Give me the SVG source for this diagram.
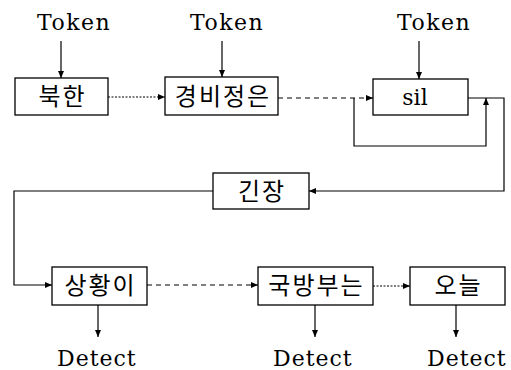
<svg xmlns="http://www.w3.org/2000/svg" width="511" height="370" viewBox="0 0 511 370">
<style>
.box{fill:#fff;stroke:#000;stroke-width:1.3}
.ko{font-family:"Noto Sans CJK KR","Noto Sans",sans-serif;font-size:24px;letter-spacing:2px;text-anchor:middle;fill:#000}
.lat{font-family:"DejaVu Serif","Liberation Serif",serif;font-size:22px;fill:#000}
.ln{fill:none;stroke:#000;stroke-width:1.2}
.dot{stroke-dasharray:2 1.5}
.dash{stroke-dasharray:5 4}
</style>
<defs>
<marker id="ah" markerWidth="8" markerHeight="6" refX="7" refY="3" orient="auto" markerUnits="userSpaceOnUse">
<path d="M0,0 L7,3 L0,6 Z" fill="#000"/>
</marker>
</defs>
<rect width="511" height="370" fill="#fff"/>
<g id="labels">
<text class="lat" x="37" y="30" letter-spacing="1.5">Token</text>
<text class="lat" x="190" y="30" letter-spacing="1.5">Token</text>
<text class="lat" x="397" y="30" letter-spacing="1.5">Token</text>
<text class="lat" x="57" y="366" letter-spacing="1">Detect</text>
<text class="lat" x="273" y="366" letter-spacing="1">Detect</text>
<text class="lat" x="427" y="366" letter-spacing="1">Detect</text>
</g>
<g id="n1"><rect class="box" x="15" y="78" width="93" height="37"/><text class="ko" x="62.5" y="105">북한</text></g>
<g id="n2"><rect class="box" x="165" y="77" width="113" height="38"/><text class="ko" x="223" y="105">경비정은</text></g>
<g id="n3"><rect class="box" x="373" y="79" width="95" height="36"/><text class="lat" x="415" y="105" text-anchor="middle" font-size="23">sil</text></g>
<g id="n4"><rect class="box" x="213" y="173" width="96" height="36"/><text class="ko" x="262" y="200">긴장</text></g>
<g id="n5"><rect class="box" x="52" y="267" width="95" height="38"/><text class="ko" x="100.5" y="294">상황이</text></g>
<g id="n6"><rect class="box" x="258" y="267" width="115" height="38"/><text class="ko" x="316.5" y="294">국방부는</text></g>
<g id="n7"><rect class="box" x="410" y="267" width="95" height="38"/><text class="ko" x="458.5" y="294">오늘</text></g>
<g id="connectors">
<line class="ln" x1="61" y1="41" x2="61" y2="78" marker-end="url(#ah)"/>
<line class="ln" x1="222" y1="41" x2="222" y2="77" marker-end="url(#ah)"/>
<line class="ln" x1="419" y1="41" x2="419" y2="79" marker-end="url(#ah)"/>
<line class="ln dot" x1="108" y1="97" x2="165" y2="97" marker-end="url(#ah)"/>
<line class="ln dash" x1="278" y1="98" x2="373" y2="98" marker-end="url(#ah)"/>
<polyline class="ln" points="354,98 354,146 486,146 486,98" marker-end="url(#ah)"/>
<polyline class="ln" points="468,98 504,98 504,191 309,191" marker-end="url(#ah)"/>
<polyline class="ln" points="213,191 14,191 14,285 52,285" marker-end="url(#ah)"/>
<line class="ln dash" x1="147" y1="285" x2="258" y2="285" marker-end="url(#ah)"/>
<line class="ln dot" x1="373" y1="286" x2="410" y2="286" marker-end="url(#ah)"/>
<line class="ln" x1="98" y1="305" x2="98" y2="337" marker-end="url(#ah)"/>
<line class="ln" x1="315" y1="305" x2="315" y2="337" marker-end="url(#ah)"/>
<line class="ln" x1="456" y1="305" x2="456" y2="337" marker-end="url(#ah)"/>
</g>
</svg>
